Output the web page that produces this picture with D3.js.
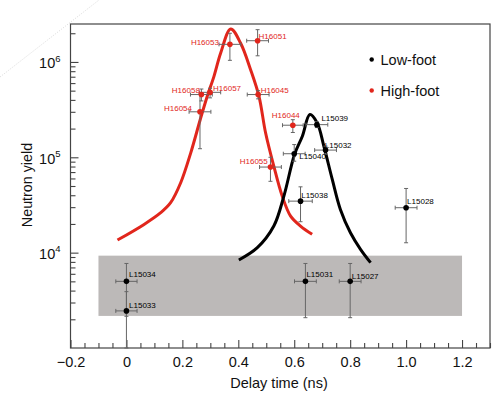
<!DOCTYPE html>
<html>
<head>
<meta charset="utf-8">
<script src="https://cdn.jsdelivr.net/npm/d3@7"></script>
<style>
  html, body { margin: 0; padding: 0; background: #fff; }
  svg { display: block; font-family: "Liberation Sans", Arial, Helvetica, sans-serif; }
</style>
</head>
<body>
<svg id="chart" width="500" height="393"></svg>
<script>
// ---------------- data ----------------
const lowNames     = ["L15034","L15033","L15031","L15027","L15028","L15038","L15040","L15039","L15032"];
const lowDelay     = [0, 0, 0.64, 0.80, 1.00, 0.6225, 0.60, 0.681, 0.712];
const lowYield     = [5000, 2450, 5000, 5000, 29600, 34700, 109000, 220000, 119000];
const lowDelayErr  = [0.038, 0.038, 0.039, 0.039, 0.039, 0.042, 0.039, 0.039, 0.039];
const lowYieldLo   = [2150, 1000, 2080, 2080, 12700, 21100, 91000, 205000, 108000];
const lowYieldHi   = [7700, 3900, 7700, 7700, 47100, 49000, 136000, 236000, 131000];

const highNames    = ["H16053","H16051","H16058","H16057","H16054","H16045","H16044","H16055"];
const highDelay    = [0.37, 0.469, 0.268, 0.299, 0.263, 0.471, 0.595, 0.515];
const highYield    = [1530000, 1670000, 455000, 480000, 300000, 455000, 217000, 79000];
const highDelayErr = [0.039, 0.039, 0.039, 0.038, 0.039, 0.039, 0.037, 0.039];
const highYieldLo  = [1040000, 1160000, 390000, 420000, 123000, 410000, 182000, 56000];
const highYieldHi  = [2000000, 2180000, 520000, 530000, 460000, 500000, 248000, 100000];

const redCurveDelay = [-0.032, 0.063, 0.1225, 0.158, 0.194, 0.230, 0.264, 0.289, 0.313, 0.337, 0.373, 0.408, 0.444, 0.474, 0.4975, 0.527, 0.557, 0.587, 0.6225, 0.664];
const redCurveYield = [13550, 19770, 26240, 33420, 54080, 111400, 248900, 436500, 706300, 1241000, 2218000, 1581000, 829800, 436500, 180700, 80720, 39170, 24150, 19010, 15560];

const blackCurveDelay = [0.402, 0.468, 0.527, 0.563, 0.601, 0.629, 0.656, 0.682, 0.706, 0.736, 0.765, 0.801, 0.837, 0.873];
const blackCurveYield = [8375, 11270, 19010, 39170, 106900, 166300, 280500, 229600, 130600, 58610, 28380, 16180, 10840, 7852];

const bandDelay = [-0.1, 1.2];
const bandYield = [2170, 9300];

const xTickValues = [-0.2, 0, 0.2, 0.4, 0.6, 0.8, 1.0, 1.2];
const xTickLabels = ["\u22120.2", "0", "0.2", "0.4", "0.6", "0.8", "1.0", "1.2"];
const yTickValues = [1e4, 1e5, 1e6];
const yTickExponents = ["4", "5", "6"];
const legendLabels = ["Low-foot", "High-foot"];
const axisTitles = ["Delay time (ns)", "Neutron yield"];

// label offsets (layout only, px)
const lowLabelLayout = [[2.6,-7.3,"start"],[2.6,-6,"start"],[1,-7.6,"start"],[1.7,-5.6,"start"],[1,-6.3,"start"],[0.7,-6,"start"],[5,2.4,"start"],[4.5,-6.7,"start"],[-0.7,-5,"start"]];
const highLabelLayout = [[-11,-2,"end"],[1,-5,"start"],[-1.5,-5,"end"],[3,-4.5,"start"],[-8,-3.5,"end"],[2.5,-5,"start"],[7,-10.7,"end"],[-2.7,-6,"end"]];

// ---------------- drawing ----------------
const RED = "#e1261c";
const svg = d3.select("#chart");
const L = 70.5, R = 490, T = 24, B = 348;
const x = d3.scaleLinear().domain([-0.2, 1.3]).range([L, R]);
const y = d3.scaleLog().domain([1000, 2.5e6]).range([B, T]);

// faint dotted artifact line
svg.append("line").attr("x1", 0).attr("y1", 77).attr("x2", 99).attr("y2", 0)
  .attr("stroke", "#c8c8c8").attr("stroke-width", 0.7).attr("stroke-dasharray", "1,1.5");

// band
svg.append("rect")
  .attr("x", x(bandDelay[0])).attr("y", y(bandYield[1]))
  .attr("width", x(bandDelay[1]) - x(bandDelay[0]))
  .attr("height", y(bandYield[0]) - y(bandYield[1]))
  .attr("fill", "#bcb9b8");

// frame
svg.append("rect").attr("x", L).attr("y", T).attr("width", R - L).attr("height", B - T)
  .attr("fill", "none").attr("stroke", "#444").attr("stroke-width", 1.2);

// x axis
const xMinor = d3.range(-0.2, 1.3001, 0.05).map(v => +v.toFixed(2)).filter(v => !xTickValues.some(m => Math.abs(m - v) < 1e-6));
const gx = svg.append("g").attr("transform", `translate(0,${B})`);
gx.call(d3.axisBottom(x).tickValues(xTickValues).tickSize(-8).tickPadding(9)
  .tickFormat((d, i) => xTickLabels[i]));
const gxm = svg.append("g").attr("transform", `translate(0,${B})`);
gxm.call(d3.axisBottom(x).tickValues(xMinor).tickSize(-5).tickFormat(""));
[gx, gxm].forEach(g => {
  g.select(".domain").remove();
  g.selectAll("line").attr("stroke", "#444").attr("stroke-width", 1.1);
});
gx.selectAll("text").attr("font-size", 14.5).attr("fill", "#111").attr("font-family", "Liberation Sans, Arial, sans-serif");

// y axis
const yMinor = [];
[1e3, 1e4, 1e5, 1e6].forEach(d => { for (let k = 2; k <= 9; k++) { const v = d * k; if (v <= 2.5e6) yMinor.push(v); } });
const gy = svg.append("g").attr("transform", `translate(${L},0)`);
gy.call(d3.axisLeft(y).tickValues(yTickValues).tickSize(-8).tickFormat(""));
const gym = svg.append("g").attr("transform", `translate(${L},0)`);
gym.call(d3.axisLeft(y).tickValues(yMinor).tickSize(-5).tickFormat(""));
[gy, gym].forEach(g => {
  g.select(".domain").remove();
  g.selectAll("line").attr("stroke", "#444").attr("stroke-width", 1.1);
});
yTickValues.forEach((v, i) => {
  const t = svg.append("text").attr("x", L - 10).attr("y", y(v) + 6.3)
    .attr("text-anchor", "end").attr("fill", "#111");
  t.append("tspan").attr("font-size", 14.5).text("10");
  t.append("tspan").attr("font-size", 9.5).attr("dy", -6.6).text(yTickExponents[i]);
});

// axis titles
svg.append("text").attr("x", 279).attr("y", 388).attr("text-anchor", "middle")
  .attr("font-size", 14.5).attr("fill", "#111").text(axisTitles[0]);
svg.append("text").attr("transform", "translate(31.5,185) rotate(-90)").attr("text-anchor", "middle")
  .attr("font-size", 14.3).attr("fill", "#111").text(axisTitles[1]);

// curves
const line = d3.line().x(d => x(d[0])).y(d => y(d[1])).curve(d3.curveCatmullRom.alpha(0.5));
const clip = svg.append("g");
clip.append("path").datum(redCurveDelay.map((d, i) => [d, redCurveYield[i]]))
  .attr("d", line).attr("fill", "none").attr("stroke", RED).attr("stroke-width", 3);
clip.append("path").datum(blackCurveDelay.map((d, i) => [d, blackCurveYield[i]]))
  .attr("d", line).attr("fill", "none").attr("stroke", "#000").attr("stroke-width", 3);

// points with error bars
function drawSeries(names, dx, yy, ex, lo, hi, color, layout) {
  const g = svg.append("g");
  names.forEach((n, i) => {
    const px = x(dx[i]), py = y(yy[i]);
    const x0 = x(dx[i] - ex[i]), x1 = x(dx[i] + ex[i]);
    const y0 = y(lo[i]), y1 = y(hi[i]);
    const eb = g.append("g").attr("stroke", "#666").attr("stroke-width", 1);
    eb.append("line").attr("x1", x0).attr("x2", x1).attr("y1", py).attr("y2", py);
    eb.append("line").attr("x1", x0).attr("x2", x0).attr("y1", py - 2).attr("y2", py + 2);
    eb.append("line").attr("x1", x1).attr("x2", x1).attr("y1", py - 2).attr("y2", py + 2);
    eb.append("line").attr("x1", px).attr("x2", px).attr("y1", y0).attr("y2", y1);
    eb.append("line").attr("x1", px - 2).attr("x2", px + 2).attr("y1", y0).attr("y2", y0);
    eb.append("line").attr("x1", px - 2).attr("x2", px + 2).attr("y1", y1).attr("y2", y1);
  });
  names.forEach((n, i) => {
    g.append("circle").attr("cx", x(dx[i])).attr("cy", y(yy[i])).attr("r", 2.8).attr("fill", color);
    const lay = layout[i];
    g.append("text").attr("x", x(dx[i]) + lay[0]).attr("y", y(yy[i]) + lay[1] + 3)
      .attr("text-anchor", lay[2]).attr("font-size", 8).attr("fill", color).text(n);
  });
}
drawSeries(lowNames, lowDelay, lowYield, lowDelayErr, lowYieldLo, lowYieldHi, "#000", lowLabelLayout);
drawSeries(highNames, highDelay, highYield, highDelayErr, highYieldLo, highYieldHi, RED, highLabelLayout);

// legend
const legColors = ["#000", RED];
const legY = [59.5, 90.5];
legendLabels.forEach((t, i) => {
  svg.append("circle").attr("cx", 371.7).attr("cy", legY[i]).attr("r", 2.2).attr("fill", legColors[i]);
  svg.append("text").attr("x", 380.5).attr("y", legY[i] + 5).attr("font-size", 14.5)
    .attr("fill", "#111").text(t);
});
</script>
</body>
</html>
